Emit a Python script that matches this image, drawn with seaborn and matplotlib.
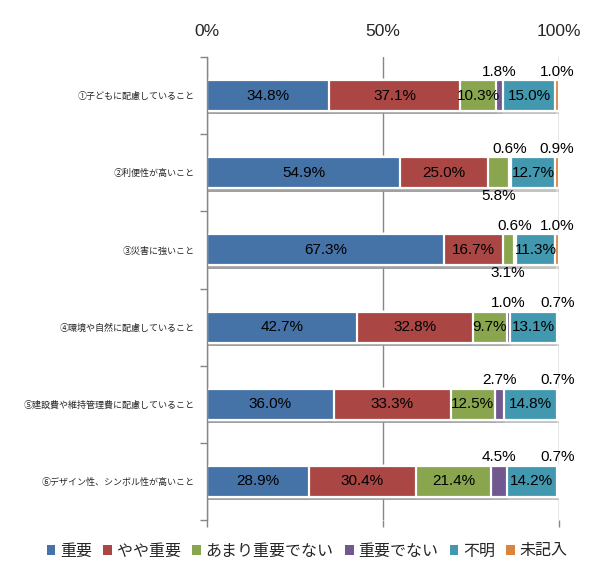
import numpy as np
import pandas as pd
import seaborn as sns
import matplotlib
matplotlib.use("Agg")
import matplotlib.pyplot as plt
from matplotlib.patches import Patch
import matplotlib.patheffects as pe

categories = ['①子どもに配慮していること', '②利便性が高いこと', '③災害に強いこと',
              '④環境や自然に配慮していること', '⑤建設費や維持管理費に配慮していること',
              '⑥デザイン性、シンボル性が高いこと']
series = ['重要', 'やや重要', 'あまり重要でない', '重要でない', '不明', '未記入']
juyo = [34.8, 54.9, 67.3, 42.7, 36.0, 28.9]
yaya_juyo = [37.1, 25.0, 16.7, 32.8, 33.3, 30.4]
amari_juyo_denai = [10.3, 5.8, 3.1, 9.7, 12.5, 21.4]
juyo_denai = [1.8, 0.6, 0.6, 1.0, 2.7, 4.5]
fumei = [15.0, 12.7, 11.3, 13.1, 14.8, 14.2]
mikinyu = [1.0, 0.9, 1.0, 0.7, 0.7, 0.7]
tick_values = [0, 50, 100]
tick_labels = ['0%', '50%', '100%']

colors = ['#4572A7', '#AA4643', '#89A54E', '#71588F', '#4198AF', '#DB843D']

sns.set_style('white')
plt.rcParams['font.family'] = ['Liberation Sans', 'Noto Sans CJK JP']

vals = np.array([juyo, yaya_juyo, amari_juyo_denai, juyo_denai, fumei, mikinyu])  # series x cat
cum = np.cumsum(vals, axis=0)

fig = plt.figure(figsize=(6.06, 5.83), dpi=100)
ax = fig.add_axes([207 / 606, 1 - 520 / 583, 352 / 606, (520 - 57) / 583])

shadow = [pe.SimplePatchShadow(offset=(0.5, -2.5), shadow_rgbFace='#999999', alpha=0.35), pe.Normal()]

for i in reversed(range(len(series))):
    df = pd.DataFrame({'cat': categories, 'val': cum[i]})
    sns.barplot(data=df, x='val', y='cat', orient='h', color=colors[i], saturation=1,
                width=0.4, edgecolor='white', linewidth=1.6, ax=ax, zorder=3)

for p in ax.patches:
    p.set_path_effects(shadow)

# data labels
for i in range(len(series)):
    for j in range(len(categories)):
        v = vals[i, j]
        xc = cum[i, j] - v / 2
        if v >= 6:
            yc = j
        elif series[i] == 'あまり重要でない':
            yc = j + 0.30
        else:
            yc = j - 0.31
        ax.text(xc, yc, f'{v:.1f}%', ha='center', va='center', fontsize=11,
                family='Liberation Sans', color='black', zorder=5)

ax.set_xlim(0, 100)
ax.set_ylim(5.5, -0.5)
ax.set_xticks(tick_values)
ax.set_xticklabels(tick_labels, fontsize=12.5, family='Liberation Sans')
ax.tick_params(axis='x', bottom=True, top=False, labelbottom=False, labeltop=True,
               length=5, width=1, color='#868686', direction='out', pad=8)
ax.xaxis.grid(True, color='#868686', linewidth=1)
ax.set_axisbelow(True)
ax.set_xlabel('')
ax.set_ylabel('')

ax.set_yticks(range(len(categories)))
ax.set_yticklabels(categories, fontsize=6.5, family='Noto Sans CJK JP')
ax.set_yticks(np.arange(-0.5, len(categories)), minor=True)
ax.tick_params(axis='y', which='major', length=0, pad=9)
ax.tick_params(axis='y', which='minor', length=5, width=1, color='#868686', direction='out', left=True)

for s in ['top', 'right', 'bottom']:
    ax.spines[s].set_visible(False)
ax.spines['left'].set_color('#868686')
ax.spines['left'].set_linewidth(1)
ax.spines['left'].set_zorder(6)

handles = [Patch(facecolor=c, edgecolor='none') for c in colors]
fig.legend(handles, series, loc='center', bbox_to_anchor=(0.507, 1 - 551 / 583), ncol=6,
           frameon=False, prop={'family': 'Noto Sans CJK JP', 'size': 11.5},
           handlelength=0.55, handleheight=0.55, handletextpad=0.3, columnspacing=0.7,
           borderaxespad=0)

fig.savefig('out.png', dpi=100)
